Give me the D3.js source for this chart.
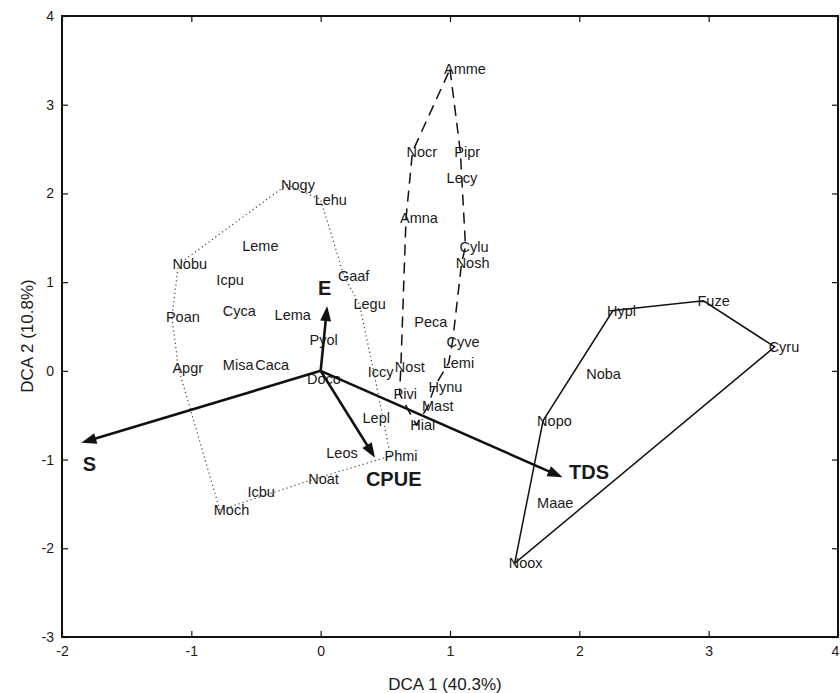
<!DOCTYPE html>
<html>
<head>
<meta charset="utf-8">
<script src="https://cdn.jsdelivr.net/npm/d3@7"></script>
<style>
  body { margin: 0; background: #fff; }
  text { font-family: "Liberation Sans", Arial, sans-serif; fill: #1a1a1a; }
</style>
</head>
<body>
<div id="chart"></div>
<script>
// species scores on the first two DCA axes
const species = ["Nogy", "Lehu", "Gaaf", "Legu", "Iccy", "Phmi", "Noat", "Moch", "Apgr", "Poan", "Nobu",
  "Leme", "Icpu", "Cyca", "Lema", "Misa", "Caca", "Pyol", "Doco", "Lepl", "Leos", "Icbu",
  "Amme", "Pipr", "Lecy", "Cylu", "Nosh", "Cyve", "Lemi", "Hynu", "Mast", "Hial", "Pivi", "Nost", "Amna", "Nocr", "Peca",
  "Hypl", "Fuze", "Cyru", "Noox", "Nopo", "Noba", "Maae"];
const dca1 = [-0.26, 0.0, 0.18, 0.3, 0.41, 0.54, -0.05, -0.78, -1.1, -1.15, -1.1,
  -0.56, -0.76, -0.71, -0.31, -0.71, -0.46, -0.04, -0.06, 0.37, 0.09, -0.52,
  1.0, 1.08, 1.02, 1.12, 1.09, 1.02, 0.99, 0.88, 0.83, 0.74, 0.61, 0.62, 0.66, 0.71, 0.77,
  2.26, 2.96, 3.51, 1.5, 1.72, 2.1, 1.72];
const dca2 = [2.1, 1.93, 1.07, 0.75, -0.01, -0.96, -1.22, -1.57, 0.03, 0.61, 1.2,
  1.41, 1.03, 0.68, 0.63, 0.07, 0.07, 0.35, -0.09, -0.53, -0.93, -1.37,
  3.4, 2.47, 2.18, 1.4, 1.22, 0.33, 0.09, -0.18, -0.4, -0.61, -0.26, 0.04, 1.72, 2.47, 0.55,
  0.68, 0.79, 0.27, -2.17, -0.56, -0.04, -1.49];

// outlines of the three species groups
const group1 = ["Nogy", "Lehu", "Gaaf", "Legu", "Iccy", "Phmi", "Noat", "Moch", "Apgr", "Poan", "Nobu"];
const group2 = ["Amme", "Pipr", "Cylu", "Nosh", "Cyve", "Lemi", "Hynu", "Mast", "Hial", "Pivi", "Nost", "Amna", "Nocr"];
const group3 = ["Hypl", "Fuze", "Cyru", "Noox", "Nopo"];

// environmental vectors
const envVars = ["S", "E", "CPUE", "TDS"];
const envX = [-1.85, 0.05, 0.42, 1.87];
const envY = [-0.81, 0.73, -0.98, -1.2];
const envLabelX = [-1.84, -0.02, 0.35, 1.92];
const envLabelY = [-1.05, 0.93, -1.22, -1.14];

const xTicks = [-2, -1, 0, 1, 2, 3, 4];
const yTicks = [-3, -2, -1, 0, 1, 2, 3, 4];

const svgWidth = 840;
const svgHeight = 693;
const margin = { top: 16, right: 2, bottom: 56, left: 62 };
const width = svgWidth - margin.left - margin.right;
const height = svgHeight - margin.top - margin.bottom;

const svg = d3.select("#chart").append("svg")
  .attr("width", svgWidth)
  .attr("height", svgHeight);
const g = svg.append("g").attr("transform", `translate(${margin.left},${margin.top})`);

const x = d3.scaleLinear().domain([-2, 4]).range([0, width]);
const y = d3.scaleLinear().domain([-3, 4]).range([height, 0]);

const pts = new Map(species.map((s, i) => [s, [dca1[i], dca2[i]]]));

// axes, MATLAB style box with inward ticks
const axisFont = "14px";
const fmt = (d) => String(d);
const xAxis = g.append("g").attr("transform", `translate(0,${height})`)
  .call(d3.axisBottom(x).tickValues(xTicks).tickSize(-6).tickPadding(9).tickFormat(fmt));
const yAxis = g.append("g")
  .call(d3.axisLeft(y).tickValues(yTicks).tickSize(-6).tickPadding(8).tickFormat(fmt));
g.append("g").call(d3.axisTop(x).tickValues(xTicks).tickSize(-6).tickFormat(""));
g.append("g").attr("transform", `translate(${width},0)`)
  .call(d3.axisRight(y).tickValues(yTicks).tickSize(-6).tickFormat(""));
g.selectAll(".domain").remove();
g.selectAll(".tick line").attr("stroke", "#111").attr("stroke-width", 1.2);
[xAxis, yAxis].forEach((a) => a.selectAll("text").style("font-size", axisFont).style("font-family", "Liberation Sans, Arial, sans-serif").attr("fill", "#1a1a1a"));
// last x tick label sits at the window edge; keep it inside
xAxis.selectAll(".tick").filter((d) => d === 4).select("text").attr("text-anchor", "end").attr("dx", "0.05em");
g.append("rect")
  .attr("width", width).attr("height", height)
  .attr("fill", "none").attr("stroke", "#111").attr("stroke-width", 2);

// group outlines
const line = d3.line().x((d) => x(pts.get(d)[0])).y((d) => y(pts.get(d)[1])).curve(d3.curveLinearClosed);
g.append("path").datum(group1).attr("d", line)
  .attr("fill", "none").attr("stroke", "#444").attr("stroke-width", 1.2).attr("stroke-dasharray", "1.2,3");
g.append("path").datum(group2).attr("d", line)
  .attr("fill", "none").attr("stroke", "#111").attr("stroke-width", 1.5).attr("stroke-dasharray", "11,7");
g.append("path").datum(group3).attr("d", line)
  .attr("fill", "none").attr("stroke", "#111").attr("stroke-width", 1.5);

// species labels
g.selectAll(".sp").data(species).enter().append("text")
  .attr("class", "sp")
  .attr("x", (d, i) => x(dca1[i]) - 6)
  .attr("y", (d, i) => y(dca2[i]))
  .attr("dy", "0.35em")
  .style("font-size", "14.5px")
  .text((d) => d);

// environmental arrows
const headLen = 15, headW = 5.5;
envVars.forEach((v, i) => {
  const x0 = x(0), y0 = y(0), x1 = x(envX[i]), y1 = y(envY[i]);
  const len = Math.hypot(x1 - x0, y1 - y0);
  const ux = (x1 - x0) / len, uy = (y1 - y0) / len;
  const bx = x1 - ux * headLen, by = y1 - uy * headLen;
  g.append("line")
    .attr("x1", x0).attr("y1", y0).attr("x2", bx + ux * 2).attr("y2", by + uy * 2)
    .attr("stroke", "#111").attr("stroke-width", 2.6);
  g.append("path")
    .attr("d", `M${x1},${y1}L${bx - uy * headW},${by + ux * headW}L${bx + uy * headW},${by - ux * headW}Z`)
    .attr("fill", "#111");
  g.append("text")
    .attr("x", x(envLabelX[i]))
    .attr("y", y(envLabelY[i]))
    .attr("dy", "0.35em")
    .style("font-size", "20px")
    .style("font-weight", "bold")
    .text(v);
});

// axis titles
svg.append("text")
  .attr("x", margin.left + width / 2 - 5)
  .attr("y", 684)
  .attr("text-anchor", "middle")
  .attr("dy", "0.35em")
  .style("font-size", "17px")
  .text("DCA 1 (40.3%)");
svg.append("text")
  .attr("transform", "translate(27,336) rotate(-90)")
  .attr("text-anchor", "middle")
  .attr("dy", "0.35em")
  .style("font-size", "17px")
  .text("DCA 2 (10.8%)");
</script>
</body>
</html>
